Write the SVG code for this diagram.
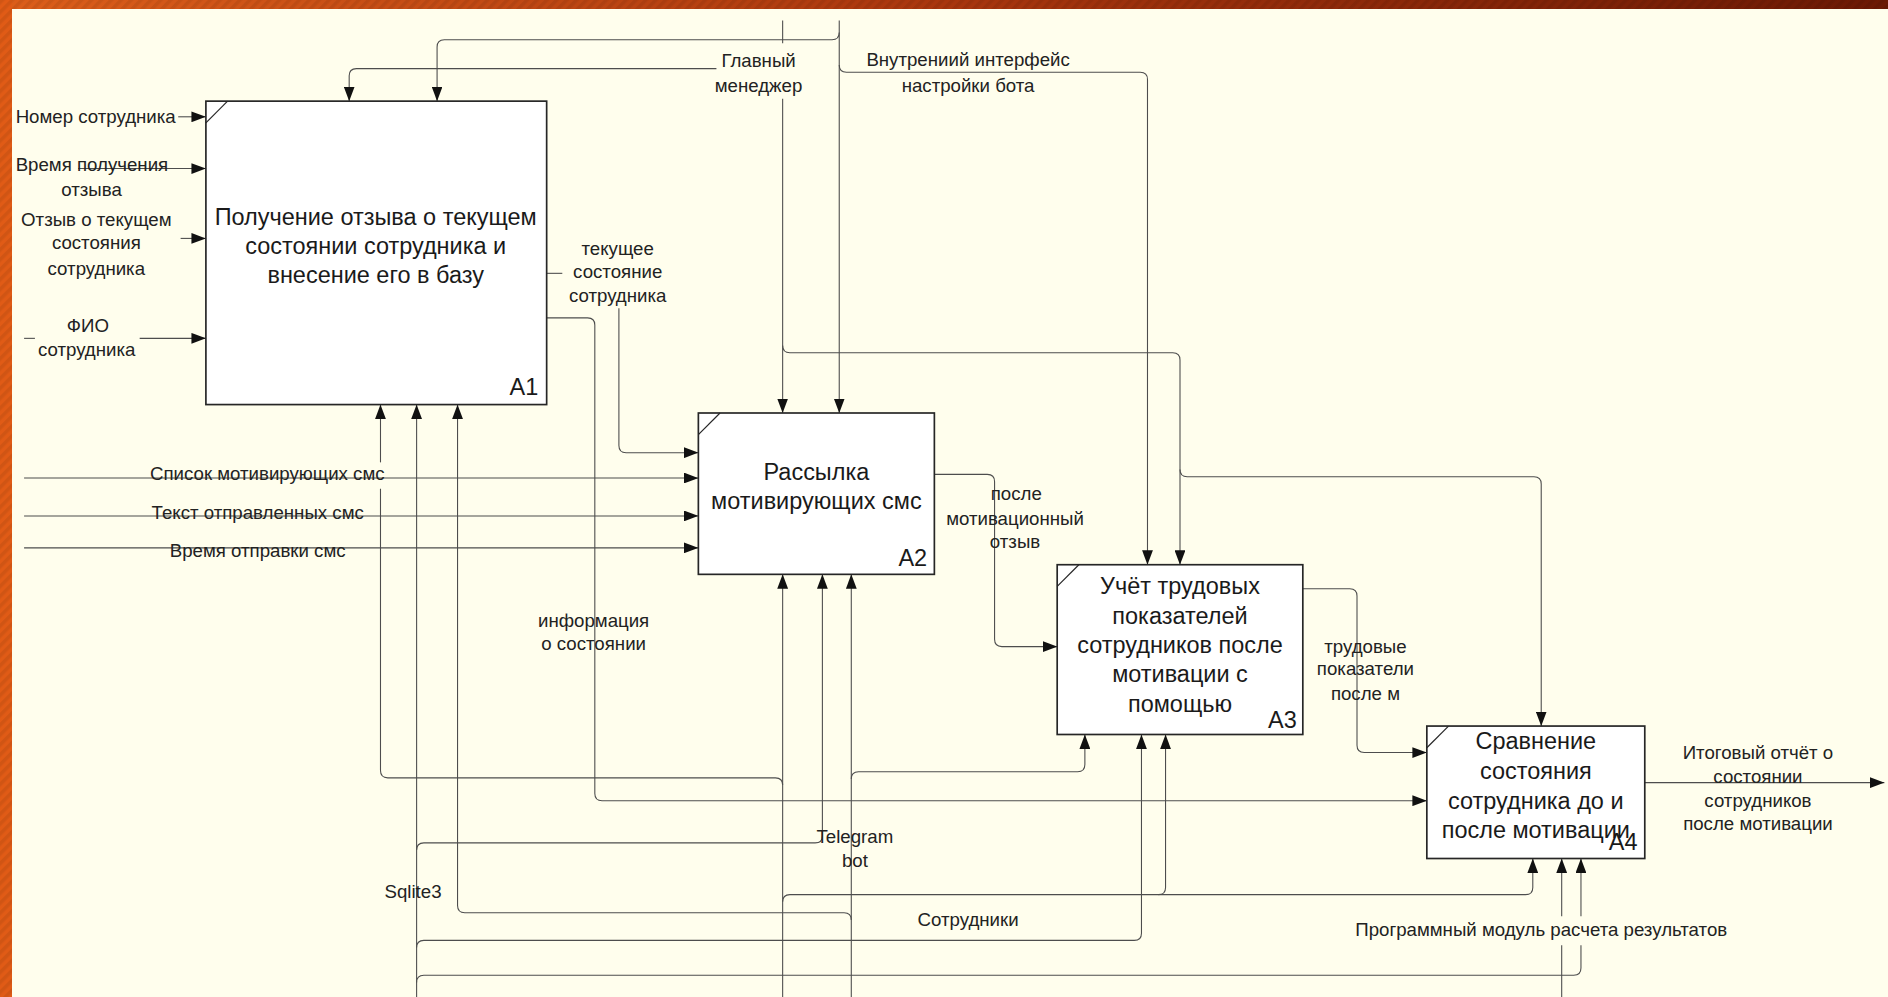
<svg xmlns="http://www.w3.org/2000/svg" width="1888" height="997" viewBox="0 0 1888 997">
<defs>
  <linearGradient id="topg" x1="0" x2="1" y1="0" y2="0">
    <stop offset="0" stop-color="#dc5e1a"/>
    <stop offset="0.5" stop-color="#a9360e"/>
    <stop offset="1" stop-color="#6c1904"/>
  </linearGradient>
  <pattern id="hatch" width="7" height="7" patternUnits="userSpaceOnUse" patternTransform="rotate(45)">
    <rect width="3.5" height="7" fill="#000" opacity="0.07"/>
  </pattern>
  <marker id="ah" viewBox="0 0 12 9" refX="12" refY="4.5" markerWidth="12" markerHeight="9" markerUnits="userSpaceOnUse" orient="auto">
    <path d="M0,0 L12,4.5 L0,9 z" fill="#111"/>
  </marker>
</defs>
<style>
  .c{fill:none;stroke:#4d4d4d;stroke-width:0.9}
  .a{marker-end:url(#ah)}
  .box rect{fill:#ffffff;stroke:#262626;stroke-width:1.4}
  .box line{stroke:#262626;stroke-width:1}
  .t{font-family:"Liberation Sans",Arial,sans-serif;font-size:19.5px;fill:#1a1a1a;text-anchor:middle}
  .n{font-family:"Liberation Sans",Arial,sans-serif;font-size:19.5px;fill:#1a1a1a;text-anchor:end}
  .l{font-family:"Liberation Sans",Arial,sans-serif;font-size:15.5px;fill:#222222;text-anchor:middle}
  .ls{font-family:"Liberation Sans",Arial,sans-serif;font-size:15.5px;fill:#222222;text-anchor:start}
</style>
<rect x="0" y="0" width="1888" height="997" fill="#fffeed"/>
<rect x="0" y="0" width="1888" height="9" fill="url(#topg)"/>
<rect x="0" y="0" width="1888" height="9" fill="url(#hatch)"/>
<rect x="0" y="0" width="12" height="997" fill="#e05b16"/>
<rect x="0" y="0" width="12" height="997" fill="url(#hatch)"/>

<g transform="scale(1.2040816)">
  <g id="connectors">
    <!-- controls -->
    <path class="c a" d="M595,57 H296 Q290,57 290,63 V84"/>
    <path class="c" d="M650,17 V36"/>
    <path class="c a" d="M650,82 V343"/>
    <path class="c a" d="M650,287 Q650,293 656,293 H974 Q980,293 980,299 V469"/>
    <path class="c a" d="M980,390 Q980,396 986,396 H1274 Q1280,396 1280,402 V603"/>
    <path class="c a" d="M697,17 V343"/>
    <path class="c a" d="M697,27 Q697,33 691,33 H369 Q363,33 363,39 V84"/>
    <path class="c a" d="M697,54 Q697,60 703,60 H947 Q953,60 953,66 V469"/>
    <!-- inputs -->
    <path class="c a" d="M148,97 H171"/>
    <path class="c a" d="M65,140 H171"/>
    <path class="c a" d="M150,198 H171"/>
    <path class="c" d="M20,281 H29"/>
    <path class="c a" d="M116,281 H171"/>
    <path class="c a" d="M20,397 H580"/>
    <path class="c a" d="M20,428.5 H580"/>
    <path class="c a" d="M20,455 H580"/>
    <path class="c" d="M454,227 H467"/>
    <path class="c a" d="M514,256 V370 Q514,376 520,376 H580"/>
    <!-- outputs -->
    <path class="c a" d="M454,264 H488 Q494,264 494,270 V659 Q494,665 500,665 H1185"/>
    <path class="c a" d="M776,394 H820 Q826,394 826,400 V531 Q826,537 832,537 H878"/>
    <path class="c a" d="M1082,489 H1121 Q1127,489 1127,495 V619 Q1127,625 1133,625 H1185"/>
    <path class="c a" d="M1366,650 H1565"/>
    <!-- mechanisms -->
    <path class="c a" d="M650,828 V477"/>
    <path class="c" d="M650,652 Q650,646 644,646 H322 Q316,646 316,640 V406"/>
    <path class="c a" d="M316,384 V336"/>
    <path class="c a" d="M650,749 Q650,743 656,743 H1267 Q1273,743 1273,737 V713"/>
    <path class="c a" d="M962,743 Q968,743 968,737 V610"/>
    <path class="c a" d="M707,828 V477"/>
    <path class="c a" d="M707,647 Q707,641 713,641 H895 Q901,641 901,635 V610"/>
    <path class="c a" d="M707,764 Q707,758 701,758 H386 Q380,758 380,752 V336"/>
    <path class="c a" d="M346,828 V336"/>
    <path class="c a" d="M346,706 Q346,700 352,700 H677 Q683,700 683,694 V477"/>
    <path class="c a" d="M346,787 Q346,781 352,781 H942 Q948,781 948,775 V610"/>
    <path class="c" d="M346,816 Q346,810 352,810 H1307 Q1313,810 1313,804 V785"/>
    <path class="c a" d="M1313,761 V713"/>
    <path class="c" d="M1297,828 V785"/>
    <path class="c a" d="M1297,761 V713"/>
    <!-- labels -->
    <text class="ls" x="13" y="102">Номер сотрудника</text>
    <text class="ls" x="13" y="142">Время получения</text>
    <text class="l" x="76" y="163">отзыва</text>
    <text class="l" x="80" y="188">Отзыв о текущем</text>
    <text class="l" x="80" y="207">состояния</text>
    <text class="l" x="80" y="228">сотрудника</text>
    <text class="l" x="73" y="276">ФИО</text>
    <text class="l" x="72" y="296">сотрудника</text>
    <text class="l" x="630" y="56">Главный</text>
    <text class="l" x="630" y="76">менеджер</text>
    <text class="l" x="804" y="55">Внутрениий интерфейс</text>
    <text class="l" x="804" y="76">настройки бота</text>
    <text class="l" x="513" y="212">текущее</text>
    <text class="l" x="513" y="231">состояние</text>
    <text class="l" x="513" y="251">сотрудника</text>
    <text class="l" x="222" y="399">Список мотивирующих смс</text>
    <text class="l" x="214" y="431">Текст отправленных смс</text>
    <text class="l" x="214" y="463">Время отправки смс</text>
    <text class="l" x="493" y="521">информация</text>
    <text class="l" x="493" y="540">о состоянии</text>
    <text class="l" x="844" y="415">после</text>
    <text class="l" x="843" y="436">мотивационный</text>
    <text class="l" x="843" y="455">отзыв</text>
    <text class="l" x="1134" y="542">трудовые</text>
    <text class="l" x="1134" y="561">показатели</text>
    <text class="l" x="1134" y="581">после м</text>
    <text class="l" x="1460" y="630">Итоговый отчёт о</text>
    <text class="l" x="1460" y="650">состоянии</text>
    <text class="l" x="1460" y="670">сотрудников</text>
    <text class="l" x="1460" y="689">после мотивации</text>
    <text class="l" x="710" y="700">Telegram</text>
    <text class="l" x="710" y="720">bot</text>
    <text class="l" x="343" y="746">Sqlite3</text>
    <text class="l" x="804" y="769">Сотрудники</text>
    <text class="l" x="1280" y="777">Программный модуль расчета результатов</text>
  </g>

  <g id="A1" class="box">
    <rect x="171" y="84" width="283" height="252"/>
    <line x1="171" y1="102" x2="189" y2="84"/>
    <text class="t" x="312" y="187">Получение отзыва о текущем</text>
    <text class="t" x="312" y="211">состоянии сотрудника и</text>
    <text class="t" x="312" y="235">внесение его в базу</text>
    <text class="n" x="447" y="328">A1</text>
  </g>
  <g id="A2" class="box">
    <rect x="580" y="343" width="196" height="134"/>
    <line x1="580" y1="361" x2="598" y2="343"/>
    <text class="t" x="678" y="399">Рассылка</text>
    <text class="t" x="678" y="423">мотивирующих смс</text>
    <text class="n" x="770" y="470">A2</text>
  </g>
  <g id="A3" class="box">
    <rect x="878" y="469" width="204" height="141"/>
    <line x1="878" y1="487" x2="896" y2="469"/>
    <text class="t" x="980" y="493">Учёт трудовых</text>
    <text class="t" x="980" y="518">показателей</text>
    <text class="t" x="980" y="542">сотрудников после</text>
    <text class="t" x="980" y="566">мотивации с</text>
    <text class="t" x="980" y="591">помощью</text>
    <text class="n" x="1077" y="605">A3</text>
  </g>
  <g id="A4" class="box">
    <rect x="1185" y="603" width="181" height="110"/>
    <line x1="1185" y1="621" x2="1203" y2="603"/>
    <text class="t" x="1275.5" y="622">Сравнение</text>
    <text class="t" x="1275.5" y="647">состояния</text>
    <text class="t" x="1275.5" y="672">сотрудника до и</text>
    <text class="t" x="1275.5" y="696">после мотивации</text>
    <text class="n" x="1360" y="706">A4</text>
  </g>
</g>
</svg>
